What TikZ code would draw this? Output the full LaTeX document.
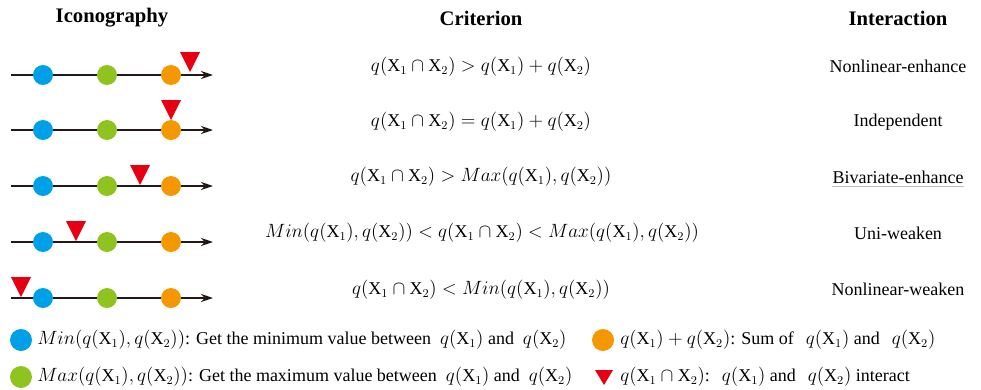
\documentclass[tikz,border=0pt]{standalone}
\usepackage{amsmath, amssymb}
\usepackage{fontspec}
\setmainfont{Liberation Serif}
\usepackage{tikz}
\usetikzlibrary{arrows.meta}

\definecolor{dotblue}{HTML}{00A0E9}
\definecolor{dotgreen}{HTML}{8FC31F}
\definecolor{dotorange}{HTML}{F39800}
\definecolor{tired}{HTML}{E60012}
\definecolor{axisgray}{HTML}{231815}

\newcommand{\qx}[1]{q(\mathrm{X}_{#1})}
\newcommand{\qcap}{q(\mathrm{X}_1\cap\mathrm{X}_2)}

\tikzset{
    axisline/.style={line width=1pt, draw=axisgray, -{Stealth[length=9pt, width=6pt]}},
    dot/.style={circle, inner sep=0pt, minimum size=15pt},
    legdot/.style={circle, inner sep=0pt, minimum size=16.5pt},
    txt/.style={font=\fontsize{13.5}{16}\selectfont, inner sep=0pt},
    head/.style={font=\fontsize{15.5}{18}\selectfont\bfseries, inner sep=0pt},
    tri/.style={fill=tired}
}

\begin{document}
\begin{tikzpicture}[x=0.75pt, y=-0.75pt]

    \useasboundingbox (0,0) rectangle (981,389);

    % column heads
    \node[head] (hicon) at (112,18) {Iconography};
    \node[head] (hcrit) at (481,18) {Criterion};
    \node[head] (hint) at (898,18) {Interaction};

    % row 1
    \coordinate (s1) at (11,75);
    \coordinate (e1) at (213,75);
    \draw[axisline] (s1) -- (e1);
    \node[dot, fill=dotblue] (b1) at (43,75) {};
    \node[dot, fill=dotgreen] (g1) at (107,75) {};
    \node[dot, fill=dotorange] (o1) at (171,75) {};
    \coordinate (t1) at (190,72);
    \fill[tri] (t1) -- ++(-10,-20) -- ++(20,0) -- cycle;
    \node[txt] (c1) at (481,67) {$\qcap > \qx{1} + \qx{2}$};
    \node[txt] (i1) at (898,66) {Nonlinear-enhance};

    % row 2
    \coordinate (s2) at (11,130);
    \coordinate (e2) at (213,130);
    \draw[axisline] (s2) -- (e2);
    \node[dot, fill=dotblue] (b2) at (43,130) {};
    \node[dot, fill=dotgreen] (g2) at (107,130) {};
    \node[dot, fill=dotorange] (o2) at (171,130) {};
    \coordinate (t2) at (171,120);
    \fill[tri] (t2) -- ++(-10,-20) -- ++(20,0) -- cycle;
    \node[txt] (c2) at (481,122) {$\qcap = \qx{1} + \qx{2}$};
    \node[txt] (i2) at (898,122) {Independent};

    % row 3
    \coordinate (s3) at (11,186);
    \coordinate (e3) at (213,186);
    \draw[axisline] (s3) -- (e3);
    \node[dot, fill=dotblue] (b3) at (43,186) {};
    \node[dot, fill=dotgreen] (g3) at (107,186) {};
    \node[dot, fill=dotorange] (o3) at (171,186) {};
    \coordinate (t3) at (140,185);
    \fill[tri] (t3) -- ++(-10,-20) -- ++(20,0) -- cycle;
    \node[txt] (c3) at (481,177) {$\qcap > Max(\qx{1},\qx{2})$};
    \node[txt] (i3) at (898,177) {Bivariate-enhance};
    \draw[gray!50, line width=0.5pt] ([yshift=-2.5pt]i3.base west) -- ([yshift=-2.5pt]i3.base east);

    % row 4
    \coordinate (s4) at (11,242);
    \coordinate (e4) at (213,242);
    \draw[axisline] (s4) -- (e4);
    \node[dot, fill=dotblue] (b4) at (43,242) {};
    \node[dot, fill=dotgreen] (g4) at (107,242) {};
    \node[dot, fill=dotorange] (o4) at (171,242) {};
    \coordinate (t4) at (76,241);
    \fill[tri] (t4) -- ++(-10,-20) -- ++(20,0) -- cycle;
    \node[txt] (c4) at (482,233) {$Min(\qx{1},\qx{2}) < \qcap < Max(\qx{1},\qx{2})$};
    \node[txt] (i4) at (898,233) {Uni-weaken};

    % row 5
    \coordinate (s5) at (11,298);
    \coordinate (e5) at (213,298);
    \draw[axisline] (s5) -- (e5);
    \node[dot, fill=dotblue] (b5) at (43,298) {};
    \node[dot, fill=dotgreen] (g5) at (107,298) {};
    \node[dot, fill=dotorange] (o5) at (171,298) {};
    \coordinate (t5) at (21,297);
    \fill[tri] (t5) -- ++(-10,-20) -- ++(20,0) -- cycle;
    \node[txt] (c5) at (481,290) {$\qcap < Min(\qx{1},\qx{2})$};
    \node[txt] (i5) at (898,289) {Nonlinear-weaken};

    % legend
    \node[legdot, fill=dotblue] (lb) at (21,340) {};
    \node[txt, anchor=west] (lbt) at (37,340) {$Min(\qx{1},\qx{2})$: Get the minimum value between\ \ $\qx{1}$ and\ \ $\qx{2}$};
    \node[legdot, fill=dotgreen] (lg) at (21,377) {};
    \node[txt, anchor=west] (lgt) at (37,377) {$Max(\qx{1},\qx{2})$: Get the maximum value between\ \ $\qx{1}$ and\ \ $\qx{2}$};
    \node[legdot, fill=dotorange] (lo) at (603,340) {};
    \node[txt, anchor=west] (lot) at (620,340) {$\qx{1} + \qx{2}$: Sum of\hspace{9pt}$\qx{1}$ and\hspace{9pt}$\qx{2}$};
    \coordinate (lt) at (604,385);
    \fill[tri] (lt) -- ++(-9,-15) -- ++(18,0) -- cycle;
    \node[txt, anchor=west] (ltt) at (620,377) {$\qcap$:\hspace{9pt}$\qx{1}$ and\hspace{9pt}$\qx{2}$ interact};

\end{tikzpicture}
\end{document}
